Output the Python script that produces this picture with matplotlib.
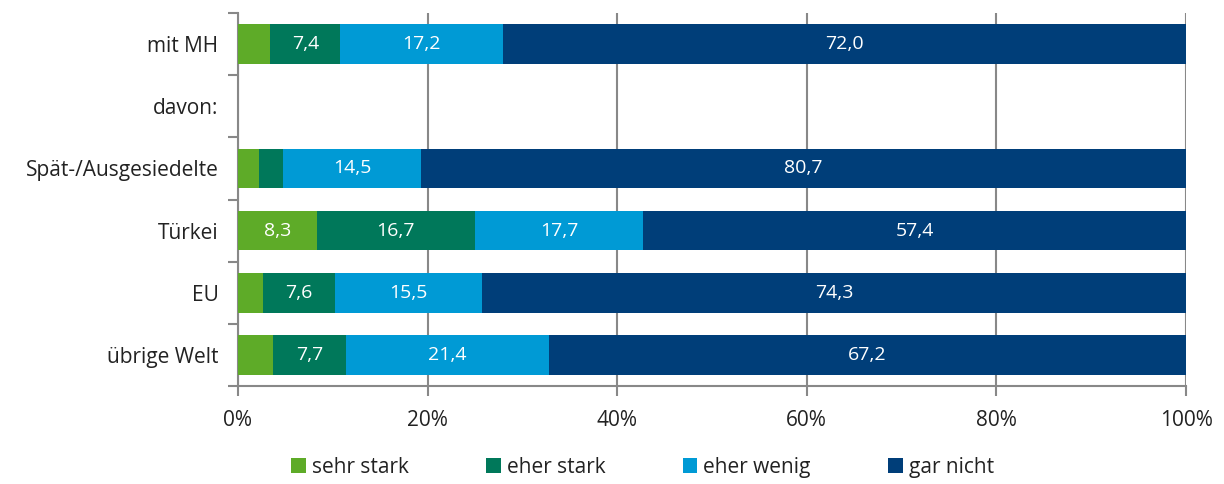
import numpy as np
import matplotlib
matplotlib.use("Agg")
import matplotlib.pyplot as plt
from matplotlib import font_manager

# pick a narrow-ish font if available
names = {f.name for f in font_manager.fontManager.ttflist}
fam = "Liberation Sans Narrow" if "Liberation Sans Narrow" in names else "Open Sans"
plt.rcParams['font.family'] = [fam, 'DejaVu Sans']

categories = ["mit MH", "davon:", "Spät-/Ausgesiedelte", "Türkei", "EU", "übrige Welt"]
series = ["sehr stark", "eher stark", "eher wenig", "gar nicht"]
sehr_stark = [3.4, 0, 2.2, 8.3, 2.6, 3.7]
eher_stark = [7.4, 0, 2.6, 16.7, 7.6, 7.7]
eher_wenig = [17.2, 0, 14.5, 17.7, 15.5, 21.4]
gar_nicht = [72.0, 0, 80.7, 57.4, 74.3, 67.2]
show_label = [
    [False, False, False, True, False, False],
    [True, False, False, True, True, True],
    [True, False, True, True, True, True],
    [True, False, True, True, True, True],
]
colors = ["#5eab28", "#00785a", "#009ad5", "#003e79"]

fig = plt.figure(figsize=(12.24, 4.84), dpi=100)
ax = fig.add_axes([0.1944, 0.2025, 0.7746, 0.7706])

y = np.arange(len(categories))
left = np.zeros(len(categories))
data = [sehr_stark, eher_stark, eher_wenig, gar_nicht]
for i, vals in enumerate(data):
    vals = np.array(vals)
    ax.barh(y, vals, left=left, height=0.64, color=colors[i], label=series[i], zorder=3)
    for j, v in enumerate(vals):
        if show_label[i][j]:
            ax.text(left[j] + v / 2, y[j], f"{v:.1f}".replace(".", ","), ha="center", va="center",
                    color="white", fontsize=14, zorder=4)
    left += vals

ax.set_ylim(len(categories) - 0.5, -0.5)
ax.set_xlim(0, 100)
ax.set_yticks(y)
ax.set_yticklabels(categories, fontsize=15, color="#222222")
ax.set_yticks(np.arange(-0.5, len(categories)), minor=True)
ax.tick_params(axis="y", which="major", length=0, pad=14)
ax.tick_params(axis="y", which="minor", length=7, width=1.5, color="#888888", direction="out")
ax.set_xticks(np.arange(0, 101, 20))
ax.set_xticklabels([f"{v}%" for v in range(0, 101, 20)], fontsize=15, color="#222222")
ax.tick_params(axis="x", length=7, width=1.5, color="#888888", pad=10)
ax.grid(axis="x", color="#888888", linewidth=1.5, zorder=0)
for s in ["top", "right"]:
    ax.spines[s].set_visible(False)
for s in ["left", "bottom"]:
    ax.spines[s].set_color("#888888")
    ax.spines[s].set_linewidth(1.5)

fig.legend(loc="center", bbox_to_anchor=(0.525, 0.035), ncol=4, frameon=False,
           fontsize=15, handlelength=0.7, handleheight=0.7, handletextpad=0.3,
           columnspacing=3.7, labelcolor="#222222")

fig.savefig("out.png", dpi=100)
